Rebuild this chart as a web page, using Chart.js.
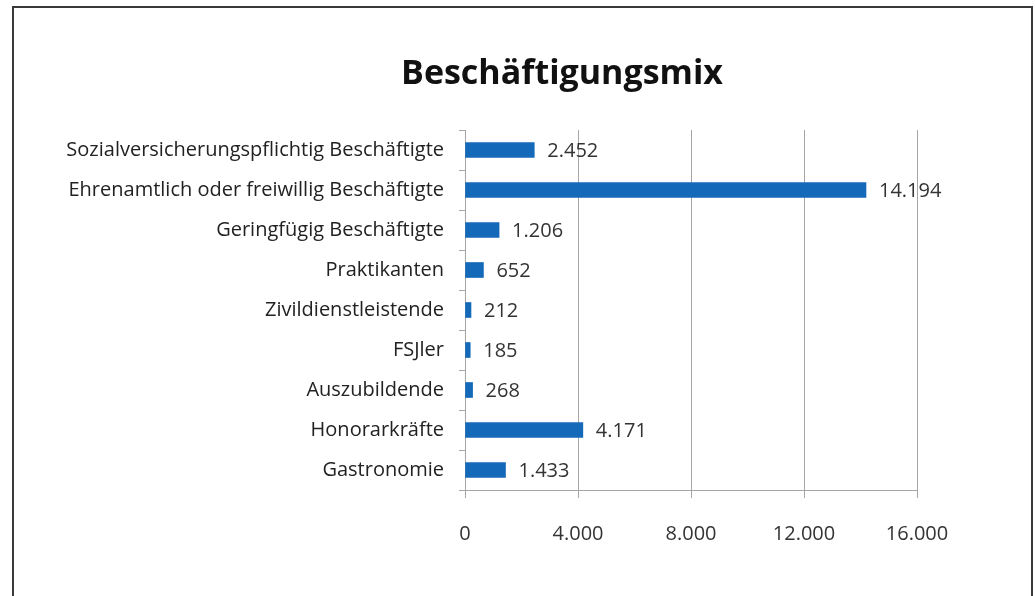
<!DOCTYPE html>
<html><head><meta charset="utf-8">
<script src="https://cdn.jsdelivr.net/npm/chart.js@4/dist/chart.umd.min.js"></script>
<style>html,body{margin:0;padding:0;background:#fff;}#wrap{width:1035px;height:596px;position:relative;}</style>
</head><body><div id="wrap"><canvas id="c" width="1035" height="596"></canvas></div>
<script>
const titleText = 'Beschäftigungsmix';
const categories = ['Sozialversicherungspflichtig Beschäftigte','Ehrenamtlich oder freiwillig Beschäftigte','Geringfügig Beschäftigte','Praktikanten','Zivildienstleistende','FSJler','Auszubildende','Honorarkräfte','Gastronomie'];
const values = [2452, 14194, 1206, 652, 212, 185, 268, 4171, 1433];
const xTicks = [0, 4000, 8000, 12000, 16000];

const FONT = '"Open Sans", sans-serif';
const fmt = v => v.toLocaleString('de-DE');

const framePlugin = {
  id: 'frame',
  beforeDraw(chart) {
    const ctx = chart.ctx;
    ctx.save();
    ctx.fillStyle = '#fff';
    ctx.fillRect(0, 0, chart.width, chart.height);
    ctx.strokeStyle = '#3a3a3a';
    ctx.lineWidth = 2;
    ctx.strokeRect(13, 7, 1019, 620);
    ctx.fillStyle = '#111';
    ctx.font = 'bold 34px ' + FONT;
    ctx.textAlign = 'center';
    ctx.textBaseline = 'middle';
    ctx.fillText(titleText, 562, 74);
    ctx.restore();
  }
};
const labelPlugin = {
  id: 'vlabels',
  afterDatasetsDraw(chart) {
    const ctx = chart.ctx;
    const meta = chart.getDatasetMeta(0);
    ctx.save();
    ctx.fillStyle = '#333';
    ctx.font = '20px ' + FONT;
    ctx.textAlign = 'left';
    ctx.textBaseline = 'middle';
    meta.data.forEach((bar, i) => {
      ctx.fillText(fmt(values[i]), bar.x + 13, bar.y + 1);
    });
    ctx.restore();
  }
};

new Chart(document.getElementById('c'), {
  type: 'bar',
  data: { labels: categories, datasets: [{ data: values, backgroundColor: '#1469b8', barThickness: 15 }] },
  options: {
    indexAxis: 'y',
    responsive: false,
    animation: false,
    devicePixelRatio: 1,
    layout: { padding: { top: 130, right: 118, left: 0, bottom: 0 } },
    plugins: { legend: { display: false }, tooltip: { enabled: false }, title: { display: false } },
    scales: {
      x: {
        min: 0, max: 16000,
        afterBuildTicks: s => { s.ticks = xTicks.map(v => ({ value: v })); },
        afterFit: s => { s.height = 106; s.paddingLeft = 0; s.paddingRight = 0; },
        grid: { color: '#a6a6a6', lineWidth: 1, tickLength: 8, drawTicks: true },
        border: { color: '#a6a6a6', width: 1 },
        ticks: { color: '#333', font: { family: FONT, size: 20 }, padding: 24, callback: v => fmt(v) }
      },
      y: {
        afterFit: s => { s.width = 465; s.paddingTop = 0; s.paddingBottom = 0; },
        grid: { drawOnChartArea: false, color: '#a6a6a6', tickLength: 6, offset: true },
        border: { color: '#a6a6a6', width: 1 },
        ticks: { color: '#222', font: { family: FONT, size: 20 }, padding: 15, autoSkip: false }
      }
    }
  },
  plugins: [framePlugin, labelPlugin]
});
</script></body></html>
